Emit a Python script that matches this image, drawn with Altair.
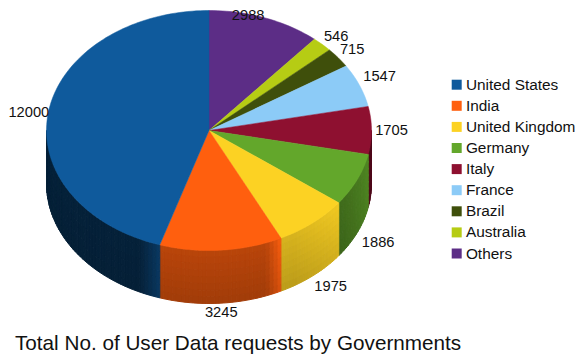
import math
import altair as alt
import pandas as pd

# Data, clockwise from 12 o'clock
categories = ["Others", "Australia", "Brazil", "France", "Italy", "Germany", "United Kingdom", "India", "United States"]
values = [2988, 546, 715, 1547, 1705, 1886, 1975, 3245, 12000]
legend_order = ["United States", "India", "United Kingdom", "Germany", "Italy", "France", "Brazil", "Australia", "Others"]
colors = {"United States": "#0F5A9C", "India": "#FF5F0E", "United Kingdom": "#FCD223", "Germany": "#63A72B",
          "Italy": "#8E1030", "France": "#8CCBF7", "Brazil": "#3F4F0B", "Australia": "#B6CC14", "Others": "#5C2D86"}
TITLE = "Total No. of User Data requests by Governments"

# Styling / layout of the tilted pie (reference-pixel units)
CX, CY, RX, RY, DEPTH = 209.0, 130.5, 162.5, 120.0, 53.0
label_offsets = {"Others": (-17, -1.5), "Australia": (14, -7), "Brazil": (14, -8), "France": (20, -8), "Italy": (20, 1),
                 "Germany": (21, 10), "United Kingdom": (18, 11), "India": (0, 10), "United States": (-19.6, 1)}
# wall shading: (base, highlight, highlight width in degrees from the slice's start angle, top-to-bottom contrast)
wall_shade = {"United States": (0.36, 0.62, 8, 0.04), "India": (0.68, 0.92, 6, 0.14), "United Kingdom": (0.80, 0.90, 22, 0.14),
              "Germany": (0.62, 0.80, 25, 0.06), "Italy": (0.55, 0.55, 10, 0.0)}


def pt(a, dy=0.0):
    r = math.radians(a)
    return CX + RX * math.sin(r), CY - RY * math.cos(r) + dy


def shade(hex_color, f):
    c = [int(hex_color[i:i + 2], 16) for i in (1, 3, 5)]
    c = [max(0, min(255, round(v * f))) for v in c]
    return "#%02x%02x%02x" % tuple(c)


total = sum(values)
top_rows, wall_rows, label_rows = [], [], []
start = 0.0
for cat, val in zip(categories, values):
    sweep = val / total * 360
    end = start + sweep
    # top face polygon
    n = max(4, int(sweep / 1.5))
    pts = [(CX, CY)] + [pt(start + sweep * i / n) for i in range(n + 1)]
    for k, (x, y) in enumerate(pts):
        top_rows.append({"cat": cat, "o": k, "x": x, "y": y})
    # front wall strips
    a0, a1 = max(start, 90.0), min(end, 270.0)
    if a1 > a0 and cat in wall_shade:
        base, hi, w, contrast = wall_shade[cat]
        steps = max(1, int((a1 - a0) / 1.5))
        vsteps = 8
        for i in range(steps):
            s0 = a0 + (a1 - a0) * i / steps
            s1 = a0 + (a1 - a0) * (i + 1) / steps
            u = max(0.0, 1 - ((s0 + s1) / 2 - start) / w)
            f = base + (hi - base) * u
            for j in range(vsteps):
                d0, d1 = DEPTH * j / vsteps, DEPTH * (j + 1) / vsteps
                vf = 1 + contrast * (0.5 - (j + 0.5) / vsteps)
                col = shade(colors[cat], f * vf)
                gid = f"{cat}-{i:03d}-{j}"
                quad = [pt(s0, d0), pt(s1, d0), pt(s1, d1), pt(s0, d1)]
                for k, (x, y) in enumerate(quad):
                    wall_rows.append({"g": gid, "o": k, "x": x, "y": y, "col": col})
    # label
    mid = (start + end) / 2
    ax, ay = pt(mid, DEPTH if math.cos(math.radians(mid)) < 0 else 0)
    ox, oy = label_offsets[cat]
    label_rows.append({"x": ax + ox, "y": ay + oy, "t": str(val)})
    start = end

x_scale = alt.Scale(domain=[8, 577], nice=False, zero=False)
y_scale = alt.Scale(domain=[323, 8], nice=False, zero=False)
X = alt.X("x:Q", scale=x_scale, axis=None)
Y = alt.Y("y:Q", scale=y_scale, axis=None)

walls = alt.Chart(pd.DataFrame(wall_rows)).mark_line(strokeWidth=1.0, interpolate="linear-closed").encode(
    x=X, y=Y, order="o:Q", detail="g:N",
    fill=alt.Fill("col:N", scale=None, legend=None),
    color=alt.Color("col:N", scale=None, legend=None),
)

color_scale = alt.Scale(domain=legend_order, range=[colors[c] for c in legend_order])

top = alt.Chart(pd.DataFrame(top_rows)).mark_line(strokeWidth=0.5, interpolate="linear-closed").encode(
    x=X, y=Y, order="o:Q", detail="cat:N",
    fill=alt.Fill("cat:N", scale=color_scale, legend=None),
    color=alt.Color("cat:N", scale=color_scale, legend=None),
)

legend_df = pd.DataFrame({"cat": legend_order, "x": [CX] * 9, "y": [CY] * 9})
legend_layer = alt.Chart(legend_df).mark_square(size=0, opacity=1).encode(
    x=X, y=Y,
    fill=alt.Fill("cat:N", scale=color_scale, sort=legend_order, legend=alt.Legend(
        title=None, orient="none", legendX=441, legendY=69, symbolType="square", symbolSize=100,
        symbolStrokeWidth=0, labelFont="Liberation Sans", labelFontSize=15.4, labelColor="#111111",
        labelOffset=1.5, rowPadding=4.1, labelLimit=200, padding=0)),
)

labels = alt.Chart(pd.DataFrame(label_rows)).mark_text(
    font="Liberation Sans", fontSize=14.7, color="#111111", align="center", baseline="middle"
).encode(x=X, y=Y, text="t:N")

chart = alt.layer(walls, top, legend_layer, labels).resolve_scale(fill="independent", color="independent").properties(
    width=569, height=315,
    padding={"left": 0, "top": 0, "right": 0, "bottom": 31},
    autosize=alt.AutoSizeParams(type="none"),
    title=alt.TitleParams(TITLE, orient="bottom", anchor="start", font="Liberation Sans", fontSize=20.7,
                          fontWeight="normal", color="#111111", dx=7, offset=11),
).configure_view(stroke=None)

chart.save("out.html", embed_options={"renderer": "svg", "actions": False})
